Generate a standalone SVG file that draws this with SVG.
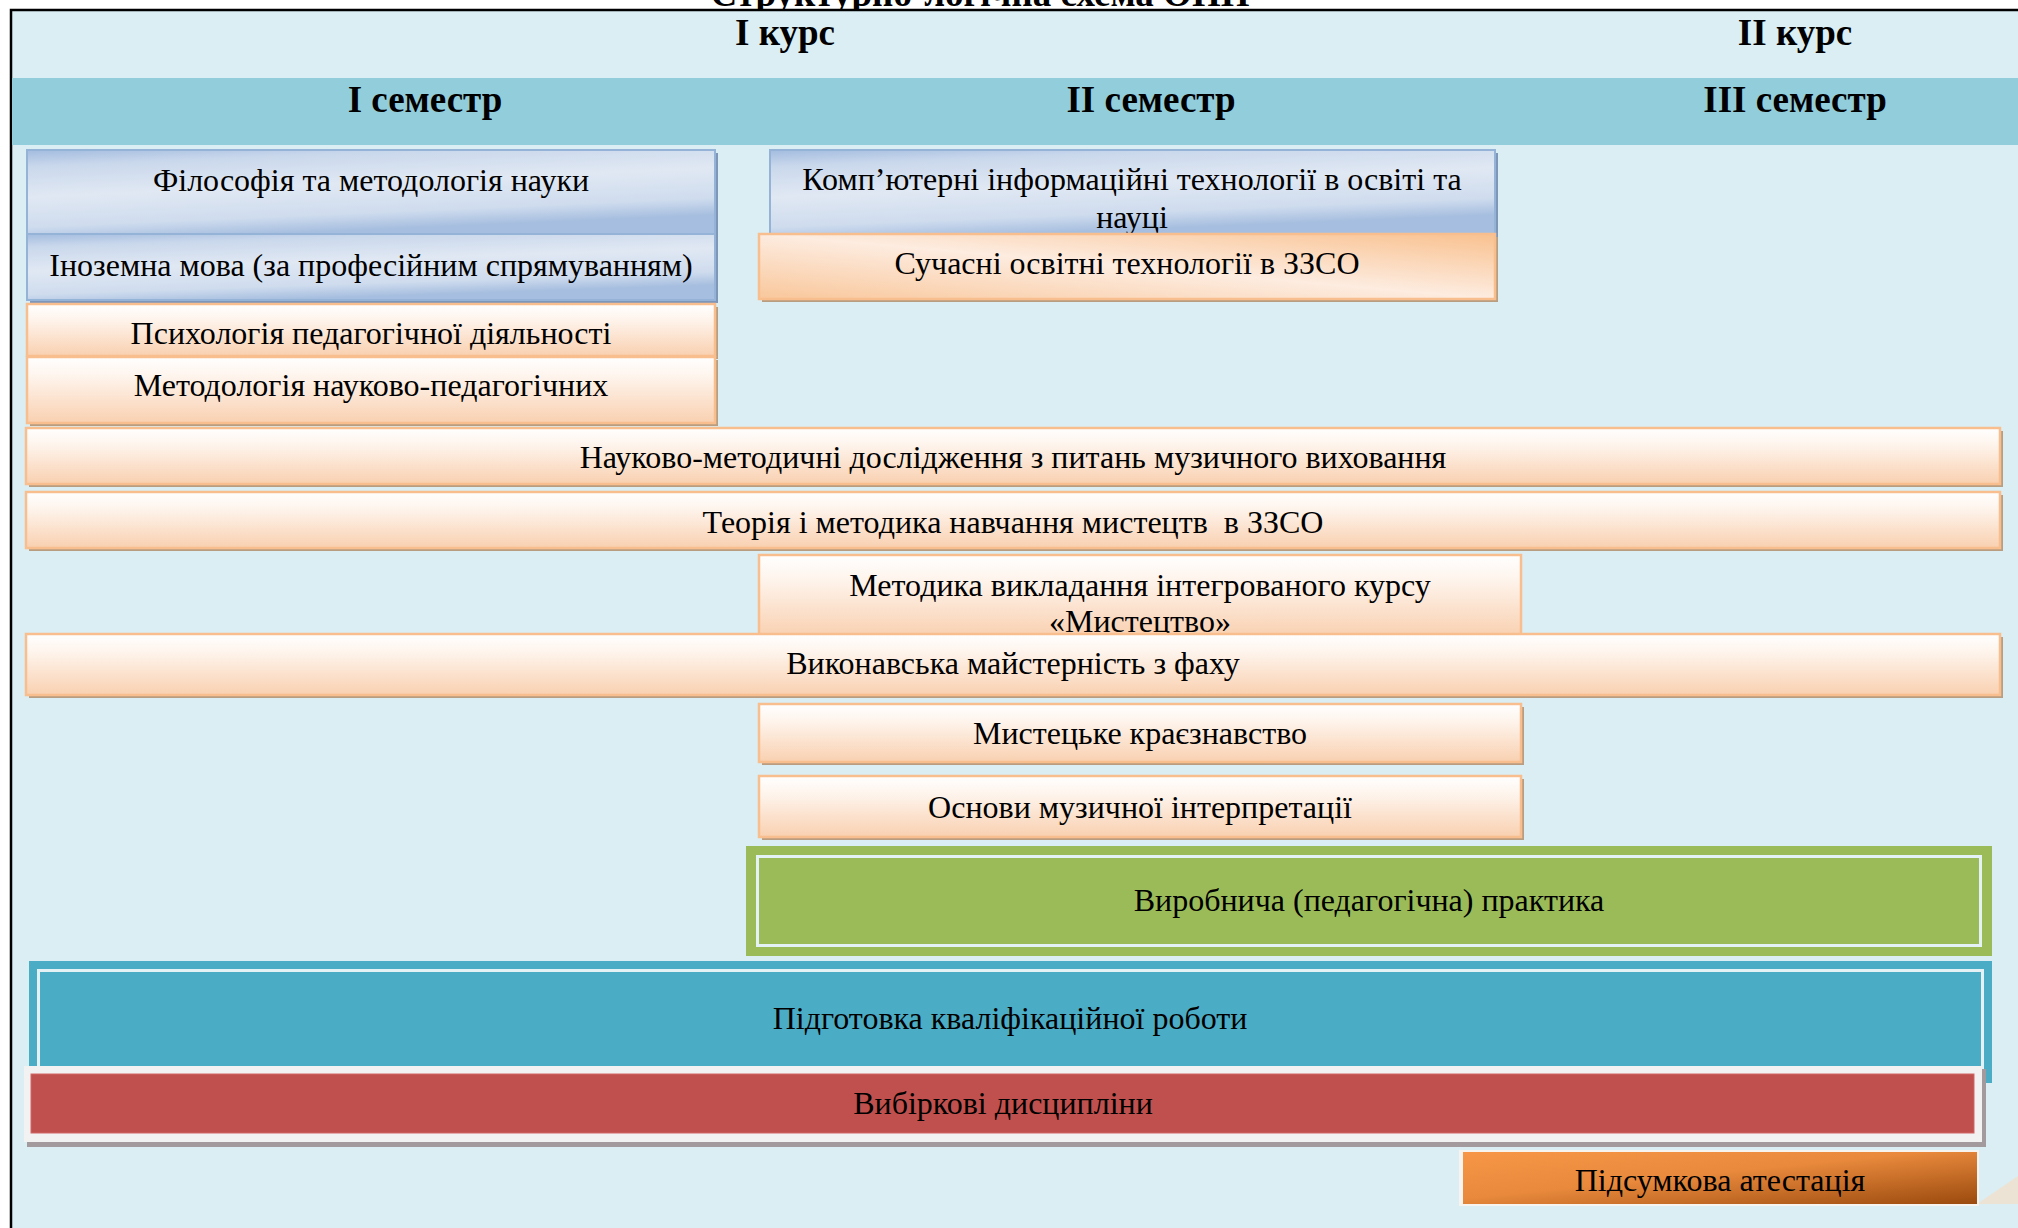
<svg xmlns="http://www.w3.org/2000/svg" width="2018" height="1228" viewBox="0 0 2018 1228">
<defs>
  <linearGradient id="gBl" x1="0" y1="0" x2="0.35" y2="1">
    <stop offset="0" stop-color="#a3bcdf"/>
    <stop offset="0.18" stop-color="#cad8ec"/>
    <stop offset="0.5" stop-color="#e0e8f3"/>
    <stop offset="0.82" stop-color="#cfdcee"/>
    <stop offset="1" stop-color="#a6bedf"/>
  </linearGradient>
  <linearGradient id="gOr" x1="0" y1="0" x2="0" y2="1">
    <stop offset="0" stop-color="#ffffff"/>
    <stop offset="0.3" stop-color="#fef4ec"/>
    <stop offset="1" stop-color="#f9d0b0"/>
  </linearGradient>
  <linearGradient id="gOr2" x1="0" y1="1" x2="1" y2="0">
    <stop offset="0" stop-color="#f9c79b"/>
    <stop offset="0.5" stop-color="#fdece0"/>
    <stop offset="1" stop-color="#f9c18f"/>
  </linearGradient>
  <linearGradient id="gFin" x1="0" y1="0" x2="1" y2="1">
    <stop offset="0" stop-color="#f79646"/>
    <stop offset="0.45" stop-color="#e8893c"/>
    <stop offset="1" stop-color="#9b4a0e"/>
  </linearGradient>
  <style>
    .t{font-family:"Liberation Serif","Times New Roman",serif;font-size:32px;fill:#000;text-anchor:middle}
    .h{font-family:"Liberation Serif","Times New Roman",serif;font-size:37px;font-weight:bold;fill:#000;text-anchor:middle}
    .ob{fill:url(#gOr);stroke:#f9be8e;stroke-width:2.5}
    .ob2{fill:url(#gOr2);stroke:#f9be8e;stroke-width:2.5}
    .osh{fill:#b99d80}
    .bb{fill:url(#gBl);stroke:#95b3d7;stroke-width:2}
    .bsh{fill:#7e96b8}
    .inl{fill:none;stroke:#e4f2f6;stroke-width:3}
  </style>
</defs>
<rect width="2018" height="1228" fill="#ffffff"/>
<text class="h" x="980" y="6">Структурно-логічна схема ОПП</text>
<rect x="11" y="10" width="2007" height="1218" fill="#daeef3"/>
<path d="M11,1228 V10 H2018" stroke="#000" stroke-width="2.5" fill="none"/>
<rect x="12" y="78" width="2006" height="67" fill="#92cddc"/>
<g id="headers">
  <text class="h" x="785" y="45">I курс</text>
  <text class="h" x="1795" y="45">II курс</text>
  <text class="h" x="425" y="112">I семестр</text>
  <text class="h" x="1151" y="112">II семестр</text>
  <text class="h" x="1795" y="112">III семестр</text>
</g>
<g id="n-filosofiia">
  <rect class="bsh" x="30" y="153" width="688" height="84"/>
  <rect class="bb" x="27" y="150" width="688" height="84"/>
  <text class="t" x="371" y="191">Філософія та методологія науки</text>
</g>
<g id="n-inozemna">
  <rect class="bsh" x="30" y="237" width="688" height="66"/>
  <rect class="bb" x="27" y="234" width="688" height="66"/>
  <text class="t" x="371" y="276">Іноземна мова (за професійним спрямуванням)</text>
</g>
<g id="n-psykholohiia">
  <rect class="osh" x="30" y="307" width="688" height="52"/>
  <rect class="ob" x="27" y="304" width="688" height="52"/>
  <text class="t" x="371" y="344">Психологія педагогічної діяльності</text>
</g>
<g id="n-metodolohiia">
  <rect class="osh" x="30" y="360" width="688" height="66"/>
  <rect class="ob" x="27" y="357" width="688" height="66"/>
  <text class="t" x="371" y="396">Методологія науково-педагогічних</text>
</g>
<g id="n-kompiuterni">
  <rect class="bsh" x="773" y="153" width="725" height="84"/>
  <rect class="bb" x="770" y="150" width="725" height="84"/>
  <text class="t" x="1132" y="190">Комп’ютерні інформаційні технології в освіті та</text>
  <text class="t" x="1132" y="228">науці</text>
</g>
<g id="n-suchasni">
  <rect class="osh" x="762" y="237" width="736" height="65"/>
  <rect class="ob2" x="759" y="234" width="736" height="65"/>
  <text class="t" x="1127" y="274">Сучасні освітні технології в ЗЗСО</text>
</g>
<g id="n-naukovo">
  <rect class="osh" x="29" y="431" width="1974" height="56"/>
  <rect class="ob" x="26" y="428" width="1974" height="56"/>
  <text class="t" x="1013" y="468">Науково-методичні дослідження з питань музичного виховання</text>
</g>
<g id="n-teoriia">
  <rect class="osh" x="29" y="495" width="1974" height="56"/>
  <rect class="ob" x="26" y="492" width="1974" height="56"/>
  <text class="t" x="1013" y="533">Теорія і методика навчання мистецтв&#160; в ЗЗСО</text>
</g>
<g id="n-metodyka">
  <rect class="ob" x="759" y="555" width="762" height="82"/>
  <text class="t" x="1140" y="596">Методика викладання інтегрованого курсу</text>
  <text class="t" x="1140" y="632">«Мистецтво»</text>
</g>
<g id="n-vykonavska">
  <rect class="osh" x="29" y="637" width="1974" height="61"/>
  <rect class="ob" x="26" y="634" width="1974" height="61"/>
  <text class="t" x="1013" y="674">Виконавська майстерність з фаху</text>
</g>
<g id="n-kraieznavstvo">
  <rect class="osh" x="762" y="707" width="762" height="58"/>
  <rect class="ob" x="759" y="704" width="762" height="58"/>
  <text class="t" x="1140" y="744">Мистецьке краєзнавство</text>
</g>
<g id="n-interpretatsiia">
  <rect class="osh" x="762" y="779" width="762" height="61"/>
  <rect class="ob" x="759" y="776" width="762" height="61"/>
  <text class="t" x="1140" y="818">Основи музичної інтерпретації</text>
</g>
<g id="n-praktyka">
  <rect x="746" y="846" width="1246" height="110" fill="#9bbb59"/>
  <rect class="inl" x="757.5" y="856.5" width="1223" height="89"/>
  <text class="t" x="1369" y="911">Виробнича (педагогічна) практика</text>
</g>
<g id="n-kvalifikatsiina">
  <rect x="29" y="961" width="1963" height="122" fill="#4bacc6"/>
  <rect class="inl" x="38.5" y="970.5" width="1944" height="110"/>
  <text class="t" x="1010" y="1029">Підготовка кваліфікаційної роботи</text>
</g>
<g id="n-vybirkovi">
  <rect x="27" y="1069" width="1959" height="78" fill="#a39a9e"/>
  <rect x="24" y="1066" width="1958" height="76" fill="#f2f2f2"/>
  <rect x="31" y="1074" width="1943" height="59" fill="#c0504d" stroke="#d06764" stroke-width="1"/>
  <text class="t" x="1003" y="1114">Вибіркові дисципліни</text>
</g>
<g id="n-atestatsiia">
  <polygon points="1977,1204 2018,1176 2018,1204" fill="#ede3d4"/>
  <rect x="1459" y="1150" width="520" height="56" fill="#f7f3ee"/>
  <rect x="1463" y="1152" width="514" height="52" fill="url(#gFin)"/>
  <text class="t" x="1720" y="1191">Підсумкова атестація</text>
</g>
<g id="connectors"></g>
</svg>
